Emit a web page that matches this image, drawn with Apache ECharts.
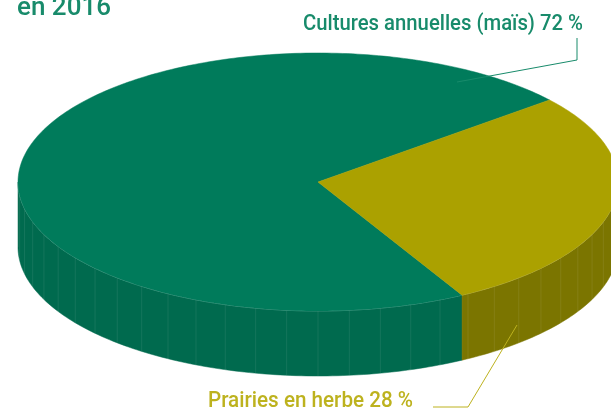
<!DOCTYPE html>
<html>
<head>
<meta charset="utf-8">
<script src="https://cdn.jsdelivr.net/npm/echarts@6/dist/echarts.min.js"></script>
<style>
  html, body { margin: 0; padding: 0; background: #fff; }
  #chart { width: 611px; height: 410px; }
</style>
</head>
<body>
<div id="chart"></div>
<script>
// Land use shares, in percent
const categories = ['Cultures annuelles (maïs)', 'Prairies en herbe'];
const shares = [72, 28];
const yearLabel = 'en 2016';

// Styling
const topColors = ['#007b5b', '#aba100'];
const sideColors = ['#006a4e', '#7b7500'];
const labelColors = ['#188b6b', '#bdb21e'];

// Tilted-disc geometry
const GEO = { cx: 318, cy: 182, rx: 300, ry: 129, depth: 65, startDeg: 39.5 };

const total = shares.reduce((a, b) => a + b, 0);

function pt(deg, dy) {
  const r = deg * Math.PI / 180;
  return [GEO.cx + GEO.rx * Math.cos(r), GEO.cy - GEO.ry * Math.sin(r) + (dy || 0)];
}
function arc(a1, a2, dy) {
  const out = [];
  const n = Math.max(2, Math.ceil(Math.abs(a2 - a1)));
  for (let k = 0; k <= n; k++) out.push(pt(a1 + (a2 - a1) * k / n, dy));
  return out;
}

function renderSlice(params, api) {
  const i = params.dataIndex;
  let before = 0;
  for (let k = 0; k < i; k++) before += shares[k];
  const a1 = GEO.startDeg + before / total * 360;
  const a2 = a1 + api.value(0) / total * 360;
  const children = [];

  // front wall: the part of the slice lying in the near half (180°..360°)
  const ranges = [[180, 360], [540, 720]];
  ranges.forEach(([lo, hi]) => {
    const s = Math.max(a1, lo), e = Math.min(a2, hi);
    if (e <= s) return;
    const top = arc(s, e, 0);
    const bottom = arc(e, s, GEO.depth);
    children.push({
      type: 'polygon',
      shape: { points: top.concat(bottom) },
      style: { fill: sideColors[i], stroke: sideColors[i], lineWidth: 0.5 }
    });
    // faint facet seams on the wall
    for (let d = Math.ceil(s / 6) * 6; d < e; d += 6) {
      const p = pt(d, 0), q = pt(d, GEO.depth);
      children.push({
        type: 'line',
        shape: { x1: p[0], y1: p[1], x2: q[0], y2: q[1] },
        style: { stroke: 'rgba(255,255,255,0.08)', lineWidth: 1 }
      });
    }
    // light rim along the top edge
    children.push({
      type: 'polyline',
      shape: { points: top },
      style: { stroke: 'rgba(255,255,255,0.3)', lineWidth: 1, fill: null }
    });
  });

  // top face
  const face = [[GEO.cx, GEO.cy]].concat(arc(a1, a2, 0));
  children.push({
    type: 'polygon',
    shape: { points: face },
    style: { fill: topColors[i], stroke: topColors[i], lineWidth: 0.5 }
  });

  return { type: 'group', children };
}

const FONT = 'Roboto, "Noto Sans", sans-serif';
const LABEL_FONT = '500 22px ' + FONT;

// squeeze a label horizontally so it spans the wanted width
const ctx = document.createElement('canvas').getContext('2d');
function fitScale(text, font, width) {
  ctx.font = font;
  return width / ctx.measureText(text).width;
}

const label1 = categories[0] + ' ' + shares[0] + ' %';
const label2 = categories[1] + ' ' + shares[1] + ' %';

const chart = echarts.init(document.getElementById('chart'), null, { renderer: 'canvas' });

chart.setOption({
  animation: false,
  backgroundColor: '#ffffff',
  series: [{
    type: 'custom',
    coordinateSystem: 'none',
    data: shares.map((v, i) => ({ name: categories[i], value: v })),
    renderItem: renderSlice
  }],
  graphic: [
    {
      type: 'text', z: 100, x: 17, y: 21,
      style: { text: yearLabel, font: '500 26px ' + FONT, fill: '#188b6b', verticalAlign: 'bottom' }
    },
    {
      type: 'text', z: 100, x: 303, y: 24,
      scaleX: fitScale(label1, LABEL_FONT, 280),
      style: { text: label1, font: LABEL_FONT, fill: labelColors[0], verticalAlign: 'middle' }
    },
    {
      type: 'polyline', z: 100,
      shape: { points: [[457, 82], [577, 60], [577, 38]] },
      style: { stroke: labelColors[0], lineWidth: 1, fill: null }
    },
    {
      type: 'text', z: 100, x: 208, y: 401,
      scaleX: fitScale(label2, LABEL_FONT, 205),
      style: { text: label2, font: LABEL_FONT, fill: labelColors[1], verticalAlign: 'middle' }
    },
    {
      type: 'polyline', z: 100,
      shape: { points: [[517, 325], [468, 407], [433, 407]] },
      style: { stroke: labelColors[1], lineWidth: 1, fill: null }
    }
  ]
});
</script>
</body>
</html>
